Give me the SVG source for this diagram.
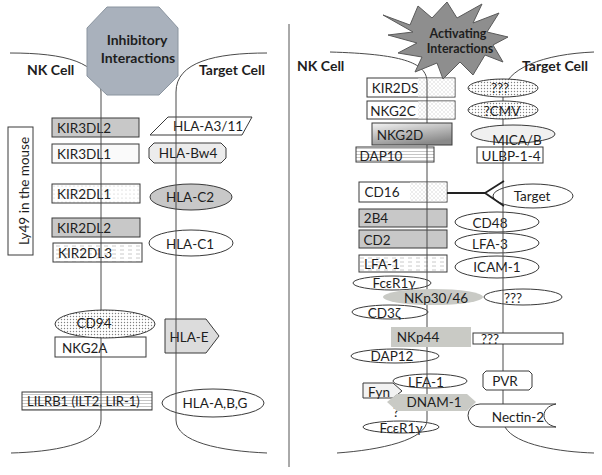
<svg xmlns="http://www.w3.org/2000/svg" width="602" height="475" viewBox="0 0 602 475">
<style>
text{font-family:Lato,"Liberation Sans",sans-serif;font-size:13.5px;fill:#1e1e1e}
.m{text-anchor:middle}
.h{font-weight:bold;font-size:14px}
.b{stroke:#3a3a3a;stroke-width:1}
.mem{fill:none;stroke:#4a4a4a;stroke-width:1}
.g{fill:#c8c8c8}
.w{fill:#fff}
.ng{fill:#c9cac5;stroke:none}
</style>
<defs>
<pattern id="dots" width="3" height="3" patternUnits="userSpaceOnUse"><rect width="3" height="3" fill="#fff"/><circle cx="1.5" cy="1.5" r="0.7" fill="#808080"/></pattern>
<pattern id="ldots" width="4" height="4" patternUnits="userSpaceOnUse"><rect width="4" height="4" fill="#fff"/><circle cx="2" cy="2" r="0.6" fill="#c4c4c4"/></pattern>
<pattern id="dash" width="8" height="4" patternUnits="userSpaceOnUse"><rect width="8" height="4" fill="#fff"/><line x1="0" y1="2" x2="4" y2="2" stroke="#bdbdbd" stroke-width="0.8"/></pattern>
<pattern id="hl" width="6" height="3" patternUnits="userSpaceOnUse"><rect width="6" height="3" fill="#fff"/><line x1="0" y1="1.5" x2="6" y2="1.5" stroke="#a0a0a0" stroke-width="0.6"/></pattern>
<pattern id="hatch" width="4" height="4" patternUnits="userSpaceOnUse"><rect width="4" height="4" fill="#fff"/><path d="M0,4 L4,0 M0,0 L4,4" stroke="#dadada" stroke-width="0.5"/></pattern>
<linearGradient id="grad" x1="0" y1="0" x2="0.5" y2="1"><stop offset="0" stop-color="#f4f4f4"/><stop offset="1" stop-color="#8a8a8a"/></linearGradient>
</defs>

<!-- left panel nodes (under membrane) -->
<g id="ly49"><rect class="b w" x="8" y="127" width="25" height="128"/><text class="m" transform="translate(29,191) rotate(-90)">Ly49 in the mouse</text></g>
<g id="kir3dl2"><rect class="b g" x="52" y="118" width="87" height="19"/><text x="57" y="133">KIR3DL2</text></g>
<g id="kir3dl1"><rect class="b" fill="#fafafa" x="52" y="144" width="87" height="19"/><text x="57" y="159">KIR3DL1</text></g>
<g id="kir2dl1"><rect class="b" fill="url(#ldots)" x="52" y="184" width="88" height="19"/><text x="57" y="199">KIR2DL1</text></g>
<g id="kir2dl2"><rect class="b g" x="52" y="218" width="88" height="19"/><text x="57" y="233">KIR2DL2</text></g>
<g id="kir2dl3"><rect class="b" fill="url(#dash)" x="53" y="243" width="89" height="19"/><text x="58" y="258">KIR2DL3</text></g>
<g id="hla-a3"><polygon class="b w" points="168,117 252,117 242,135 150,135"/><text class="m" x="208" y="131">HLA-A3/11</text></g>
<g id="hla-bw4"><polygon class="b" fill="#ececec" points="154,143 221,143 226,148 226,158 221,163 154,163 149,158 149,148"/><text class="m" x="188" y="158">HLA-Bw4</text></g>
<g id="hla-c2"><ellipse class="b g" cx="191" cy="197" rx="41" ry="13"/><text class="m" x="190" y="202">HLA-C2</text></g>
<g id="hla-c1"><ellipse class="b w" cx="191" cy="243" rx="42" ry="13"/><text class="m" x="190" y="249">HLA-C1</text></g>
<g id="nkg2a"><rect class="b w" x="55" y="337" width="91" height="20"/><text x="62" y="353">NKG2A</text></g>
<g id="hla-e"><polygon class="b" fill="#dcdcdc" points="165,319 206,319 219,336 206,353 165,353"/><text class="m" x="189" y="342">HLA-E</text></g>
<g id="lilrb1"><rect class="b" fill="url(#hl)" x="22" y="392" width="130" height="18"/><text x="27" y="406" style="font-size:13px">LILRB1 (ILT2, LIR-1)</text></g>
<g id="hla-abg"><ellipse class="b w" cx="213" cy="403" rx="51" ry="14"/><text class="m" x="215" y="408">HLA-A,B,G</text></g>

<!-- right panel nodes (under membrane) -->
<g id="kir2ds"><rect class="b w" x="367" y="78" width="88" height="19"/><rect fill="url(#hatch)" x="418" y="78.5" width="36.5" height="18"/><text class="m" x="395" y="93">KIR2DS</text></g>
<g id="nkg2c"><rect class="b w" x="367" y="101" width="88" height="18"/><rect fill="url(#hatch)" x="418" y="101.5" width="36.5" height="17"/><text class="m" x="393" y="116">NKG2C</text></g>
<g id="dap10"><rect class="b" fill="url(#hl)" x="356" y="147" width="78" height="15"/><text class="m" x="381" y="161">DAP10</text></g>
<g id="ulbp"><rect class="b w" x="477" y="147" width="66" height="16"/><text class="m" x="511" y="161">ULBP-1-4</text></g>
<g id="cd16"><rect class="b w" x="359" y="182" width="88" height="20"/><rect fill="url(#hatch)" x="410" y="182.5" width="36.5" height="19"/><text class="m" x="382" y="197">CD16</text></g>
<g id="target"><ellipse class="b w" cx="533" cy="196" rx="40" ry="12"/><text class="m" x="532" y="201">Target</text></g>
<g id="b2b4"><rect class="b g" x="359" y="209" width="88" height="18"/><text class="m" x="376" y="223">2B4</text></g>
<g id="cd2"><rect class="b g" x="359" y="230" width="88" height="18"/><text class="m" x="377" y="245">CD2</text></g>
<g id="lfa1box"><rect class="b" fill="url(#dash)" x="359" y="255" width="88" height="17"/><text class="m" x="382" y="269">LFA-1</text></g>
<g id="cd48"><ellipse class="b w" cx="497" cy="222" rx="42" ry="10"/><text class="m" x="490" y="228">CD48</text></g>
<g id="lfa3"><ellipse class="b w" cx="497" cy="243" rx="42" ry="10"/><text class="m" x="490" y="249">LFA-3</text></g>
<g id="icam1"><ellipse class="b w" cx="497" cy="267" rx="42" ry="11"/><text class="m" x="497" y="272">ICAM-1</text></g>
<g id="fcer1g"><ellipse class="b w" cx="392" cy="283" rx="39" ry="7"/><text class="m" x="394" y="288">FcεR1γ</text></g>
<g id="q3"><ellipse class="b w" cx="523" cy="297" rx="39" ry="8"/><text class="m" x="513" y="303">???</text></g>
<g id="cd3z"><ellipse class="b w" cx="390" cy="312" rx="38" ry="7"/><text class="m" x="384" y="318">CD3ζ</text></g>
<g id="dap12"><ellipse class="b w" cx="395" cy="356" rx="44" ry="7"/><text class="m" x="392" y="361">DAP12</text></g>
<g id="fyn"><polygon class="b" fill="#f2f2f2" points="363,383 393,383 402,391 393,398 363,398"/><text class="m" x="379" y="397">Fyn</text></g>
<g id="lfa1ell"><ellipse class="b w" cx="430" cy="381" rx="37" ry="7"/><text class="m" x="426" y="387">LFA-1</text></g>
<g id="fcer1g2"><ellipse class="b w" cx="401" cy="427" rx="38" ry="6"/><text class="m" x="401" y="433">FcεR1γ</text></g>
<g id="qmark"><text class="m" x="396" y="417">?</text></g>

<!-- connectors: membranes, divider, CD16 fork -->
<g id="connectors">
<path class="mem" d="M10,53 C65,53 101,62 101,92 L101,420 C101,445 50,452 11,453"/>
<path class="mem" d="M267,53 C215,53 176,62 176,92 L176,420 C176,442 220,451 267,453"/>
<path class="mem" d="M330,52 C400,54 427,62 427,82 L427,420 C427,440 380,450 337,453"/>
<path class="mem" d="M594,52 C545,54 503,68 503,95 L503,404"/>
<path class="mem" d="M505,427 C515,445 560,452 594,453"/>
<line x1="289" y1="24" x2="289" y2="467" stroke="#555" stroke-width="1"/>
<path d="M447,193 L485,193 M504,181 L485,193 L504,206" fill="none" stroke="#222" stroke-width="1.8"/>
</g>

<!-- nodes that cover the membrane -->
<g id="inhibitory"><polygon fill="#a9b1bc" stroke="#8a949f" points="107,7 159,7 178,28 178,76 159,95 107,95 87,76 87,28"/><text class="m h" x="137" y="45">Inhibitory</text><text class="m h" x="138" y="63">Interactions</text></g>
<g id="activating"><polygon fill="#8e8e8e" stroke="#5a5a5a" points="383,15 410,25 418,6 432,18 447,2 457,18 482,4 473,23 499,13 487,32 508,37 493,45 503,62 485,55 473,75 460,62 443,79 437,63 415,72 422,57 398,53 417,43 388,35 413,32"/><text class="m h" style="font-size:12.5px" x="458" y="38">Activating</text><text class="m h" style="font-size:12.5px" x="460" y="53">Interactions</text></g>
<g id="labels-left"><text class="h" x="27" y="75">NK Cell</text><text class="h" x="199" y="75">Target Cell</text></g>
<g id="labels-right"><text class="h" x="297" y="71">NK Cell</text><text class="h" x="522" y="71">Target Cell</text></g>
<g id="cd94"><ellipse class="b" fill="url(#dots)" cx="105" cy="324" rx="50" ry="14"/><text class="m" x="94" y="328">CD94</text></g>
<g id="q1"><ellipse class="b" fill="url(#dots)" cx="503" cy="88" rx="35" ry="9"/><text class="m" x="500" y="93">???</text></g>
<g id="cmv"><ellipse class="b" fill="url(#dots)" cx="503" cy="110" rx="35" ry="9"/><text class="m" x="502" y="116">?CMV</text></g>
<g id="nkg2d"><rect class="b" fill="url(#grad)" x="372" y="123" width="80" height="22"/><text class="m" x="400" y="140">NKG2D</text></g>
<g id="mica"><ellipse class="b" fill="#f0f0f0" cx="513" cy="134" rx="42" ry="9"/><text class="m" x="517" y="145">MICA/B</text></g>
<g id="nkp3046"><ellipse class="ng" cx="433" cy="297" rx="50" ry="8"/><text class="m" x="436" y="303">NKp30/46</text></g>
<g id="nkp44"><rect class="ng" x="391" y="327" width="80" height="20"/><text class="m" x="418" y="342">NKp44</text></g>
<g id="q2"><rect class="b w" x="473" y="333" width="90" height="11"/><text class="m" x="490" y="344">???</text></g>
<g id="dnam1"><polygon class="ng" points="387,402 397,394 467,394 476,402 467,411 397,411"/><text class="m" x="434" y="407">DNAM-1</text></g>
<g id="pvr"><polygon class="b w" points="486,371 529,371 532,374 532,387 529,390 486,390 483,387 483,374"/><text class="m" x="505" y="386">PVR</text></g>
<g id="nectin2"><path class="b w" d="M480,404 L556,404 C540,407 540,424 556,427 L480,427 A12,11.5 0 0 1 480,404 Z"/><text class="m" x="518" y="422">Nectin-2</text></g>
</svg>
